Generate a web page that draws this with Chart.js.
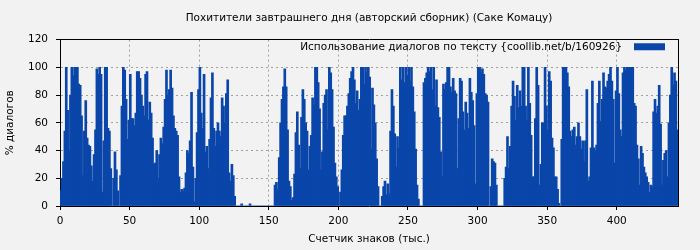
<!DOCTYPE html>
<html><head><meta charset="utf-8">
<script src="https://cdn.jsdelivr.net/npm/chart.js@4/dist/chart.umd.min.js"></script>
<style>html,body{margin:0;padding:0;background:#f2f2f2;} canvas{display:block;}</style>
</head><body>
<canvas id="c" width="700" height="250"></canvas>
<script>
const chartTitle = 'Похитители завтрашнего дня (авторский сборник) (Саке Комацу)';
const seriesLabel = 'Использование диалогов по тексту {coollib.net/b/160926}';
const xAxisTitle = 'Счетчик знаков (тыс.)';
const yAxisTitle = '% диалогов';
const xTicks = [0, 50, 100, 150, 200, 250, 300, 350, 400];
const yTicks = [0, 20, 40, 60, 80, 100, 120];
const xMax = 444;
const yMax = 120;

// share of dialogue (%) for each thousand characters, index = thousands counter
const usage = [
  11,20,32,54,100,69,40,80,100,94, 100,100,100,88,87,65,22,54,76,49,
  44,43,29,18,37,55,99,95,100,95, 10,47,100,100,56,54,27,0,20,39,
  26,11,0,22,72,100,98,77,48,62, 95,63,63,58,67,97,97,92,80,72,
  65,95,97,62,
  75,67,49,30,31,40,20,37,49,45, 57,77,98,80,84,98,85,65,56,54,
  51,21,10,12,11,13,24,40,38,47, 82,28,3,20,53,84,100,67,56,95,
  39,43,27,48,78,96,56,43,54,60, 54,50,78,72,60,81,91,24,18,30,
  22,7,
  0,0,0,0,1.5,0,0,0,0,0, 1.5,0,0,0,0,0,0,0,0,0, 0,0,0,0,0,0,0,0,
  15,17,12,35,60,77,86,99,86,55, 18,14,4,6,23,53,68,44,27,64,
  84,77,60,54,26,43,51,78,73,100, 100,89,70,26,39,74,80,84,55,100,
  96,84,57,31,21,14,
  0,10,26,51,65,65,72,81,92,97, 100,91,74,83,69,77,100,100,88,100,
  96,100,93,41,85,73,60,34,14,0, 0,7,14,18,8,16,9,54,84,72,
  52,28,50,42,100,91,100,89,100,94, 100,90,100,86,68,41,15,5,
  0,0,0,
  89,92,96,100,97,100,84,100,72,91, 71,64,39,21,88,84,89,100,100,86,
  82,92,83,81,27,63,92,90,68,55, 75,67,56,92,82,76,58,16,81,100,
  100,96,99,95,81,80,75,0,
  14,34,32,31,15,0,0,0,0,0,
  20,28,50,27,43,72,90,79,62,87, 71,83,72,100,100,72,62,100,74,51,
  21,21,63,100,87,15,30,60,60,100, 72,55,97,90,49,42,21,21,12,2,
  0,48,100,100,100,96,86,54,50,55, 57,44,50,60,50,41,47,32,47,84,
  18,21,42,90,42,40,44,74,90,
  61,77,96,86,85,90,95,100,90,77, 31,83,100,81,55,50,96,100,98,100,
  100,100,100,100,74,72,44,34,15,43, 38,28,24,21,17,10,15,14,68,77,
  67,72,87,59,15,33,38,40,21,60, 80,100,87,96,90,55
];

Chart.defaults.font.family = "'DejaVu Sans', sans-serif";
Chart.defaults.font.size = 10.5;
Chart.defaults.color = '#000';

const points = usage.map((v, i) => ({ x: i + 0.5, y: v }));

const legendPlacer = {
  id: 'legendPlacer',
  afterLayout(chart) {
    const lg = chart.legend;
    const ca = chart.chartArea;
    const w = lg.width;
    lg.left = ca.right - 11 - w;
    lg.right = lg.left + w;
    lg.top = ca.top;
    lg.bottom = lg.top + lg.height;
  }
};

const gridColor = '#a0a0a0';

new Chart(document.getElementById('c'), {
  type: 'bar',
  data: {
    datasets: [{
      label: seriesLabel,
      data: points,
      backgroundColor: '#0a46aa',
      borderWidth: 0,
      barThickness: 2,
      xAxisID: 'x',
      yAxisID: 'y'
    }]
  },
  plugins: [legendPlacer],
  options: {
    responsive: false,
    animation: false,
    events: [],
    layout: { padding: { left: 0, right: 22, top: 0, bottom: 0 } },
    plugins: {
      title: {
        display: true, text: chartTitle, fullSize: false,
        font: { size: 10.5, weight: 'normal' }, color: '#000',
        padding: { top: 12, bottom: 15 }
      },
      legend: {
        display: true, position: 'chartArea', align: 'start',
        rtl: true, textDirection: 'ltr',
        labels: {
          boxWidth: 31, boxHeight: 7, padding: 2, color: '#000',
          font: { size: 10.5 },
          generateLabels(chart) {
            const items = Chart.defaults.plugins.legend.labels.generateLabels(chart);
            items.forEach(it => { it.text = it.text + '  '; it.lineWidth = 0; });
            return items;
          }
        }
      },
      tooltip: { enabled: false }
    },
    scales: {
      x: {
        type: 'linear', min: 0, max: xMax, offset: false,
        grid: { color: gridColor, offset: false, tickColor: '#000', tickLength: 4 },
        border: { display: true, color: '#000', width: 1, dash: [2, 3] },
        ticks: { includeBounds: false, padding: 5, maxRotation: 0, autoSkip: false },
        afterBuildTicks: s => { s.ticks = xTicks.map(v => ({ value: v })); },
        afterFit: s => { s.height = 44; },
        title: { display: true, text: xAxisTitle, padding: { top: 0, bottom: 4 } }
      },
      y: {
        type: 'linear', min: 0, max: yMax,
        grid: { color: gridColor, tickColor: '#000', tickLength: 4 },
        border: { display: true, color: '#000', width: 1, dash: [2, 3] },
        ticks: { padding: 8 },
        afterBuildTicks: s => { s.ticks = yTicks.map(v => ({ value: v })); },
        afterFit: s => { s.width = 60; },
        title: { display: true, text: yAxisTitle, padding: { top: 4, bottom: 0 } }
      },
      x2: {
        type: 'linear', position: 'top', min: 0, max: xMax,
        grid: { display: false, drawTicks: false },
        ticks: { display: false },
        border: { display: true, color: '#000', width: 1 },
        afterFit: s => { s.height = 0; }
      },
      y2: {
        type: 'linear', position: 'right', min: 0, max: yMax,
        grid: { display: false, drawTicks: false },
        ticks: { display: false },
        border: { display: true, color: '#000', width: 1 },
        afterFit: s => { s.width = 0; }
      }
    }
  }
});
</script>
</body></html>
